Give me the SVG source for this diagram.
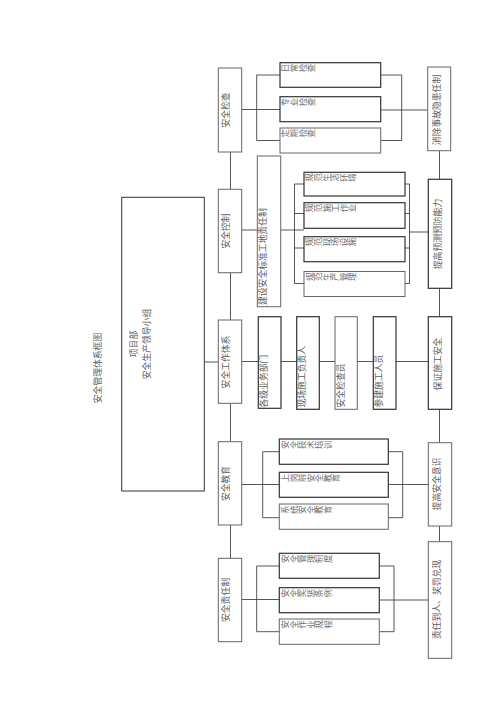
<svg xmlns="http://www.w3.org/2000/svg" width="500" height="707" viewBox="0 0 500 707">
<style>
text{font-family:"Noto Sans CJK SC","Noto Sans CJK JP",sans-serif;fill:#606060;}
.t{font-size:8.8px;}
.s{font-size:8.5px;fill:#707070;}
.box{fill:#fff;stroke:#666;stroke-width:1;}
.sb{fill:#fff;stroke:#333;stroke-width:1.2;}
.big{fill:#fff;stroke:#333;stroke-width:1;}
.c{fill:none;stroke:#444;stroke-width:0.9;}
</style>
<rect width="500" height="707" fill="#fff"/>
<g id="title"><text class="t" x="101" y="368" text-anchor="middle" transform="rotate(-90 101 368)">安全管理体系框图</text></g>
<g id="connectors">
<path class="c" d="M195,362H219"/>
<path class="c" d="M230.5,152V189.3M230.5,272.7V320M230.5,403.3V441.7M230.5,525V558.3"/>
<path class="c" d="M439.5,150.7V179.3M439.5,288.3V316.7M439.5,409.3V442.7M439.5,526V541.7"/>
<path class="c" d="M241.7,109.5H280M256.7,75V140.5M256.7,75H280M256.7,140.5H280M380.7,75H401.7M380.7,140.5H401.7M401.7,75V140.5M380.7,110H427.7"/>
<path class="c" d="M241.7,230H257.3M280.7,230H304M294.5,184V283.5M294.5,184H304M294.5,213.5H304M294.5,248H304M294.5,283.5H304M405,184H409.5M405,213.5H409.5M405,248H409.5M405,283.5H409.5M409.5,184V283.5M409.5,232H428.3"/>
<path class="c" d="M241.7,361.5H258.3M281,361.5H296.7M319.3,361.5H335M357.3,361.5H373.3M396,361.5H428.3"/>
<path class="c" d="M241.7,484.5H279.3M262.7,451.7V517.7M262.7,451.7H279.3M262.7,517.7H279.3M388.3,451.7H402.7M388.3,517.7H402.7M402.7,451.7V517.7M388.3,484.5H428.3"/>
<path class="c" d="M241.7,599.5H279.3M256.7,566V631.7M256.7,566H279.3M256.7,631.7H279.3M379.3,566H394M379.3,631.7H394M394,566V631.7M379.3,600H428.3"/>
</g>
<g id="leader"><rect class="big" x="121.7" y="197.3" width="82.6" height="293.7"/>
<text class="t" x="137" y="344" text-anchor="middle" transform="rotate(-90 137 344)">项目部</text>
<text class="t" x="150" y="344" text-anchor="middle" transform="rotate(-90 150 344)">安全生产领导小组</text></g>
<g id="n-jiancha"><rect class="box" x="218.3" y="68" width="23.4" height="84"/><text class="t" x="229" y="110" text-anchor="middle" transform="rotate(-90 229 110)">安全检查</text></g>
<g id="n-kongzhi"><rect class="box" x="218.3" y="189.3" width="23.4" height="83.4"/><text class="t" x="229" y="231" text-anchor="middle" transform="rotate(-90 229 231)">安全控制</text></g>
<g id="n-gongzuo"><rect class="box" x="218.3" y="320" width="23.4" height="83.3"/><text class="t" x="229" y="362" text-anchor="middle" transform="rotate(-90 229 362)">安全工作体系</text></g>
<g id="n-jiaoyu"><rect class="box" x="218.3" y="441.7" width="23.4" height="83.3"/><text class="t" x="229" y="483.5" text-anchor="middle" transform="rotate(-90 229 483.5)">安全教育</text></g>
<g id="n-zeren"><rect class="box" x="218.3" y="558.3" width="23.4" height="83.4"/><text class="t" x="229" y="600" text-anchor="middle" transform="rotate(-90 229 600)">安全责任制</text></g>
<g id="n-r1"><rect class="box" x="427.7" y="67" width="23" height="83.7"/><text class="t" x="440" y="110" text-anchor="middle" transform="rotate(-90 440 110)">消除事故隐患任制</text></g>
<g id="n-r2"><rect class="sb" x="428.3" y="179.3" width="23.4" height="109"/><text class="t" x="440.5" y="234" text-anchor="middle" transform="rotate(-90 440.5 234)">提高预测预防能力</text></g>
<g id="n-r3"><rect class="sb" x="428.3" y="316.7" width="23.4" height="92.6"/><text class="t" x="440.5" y="364" text-anchor="middle" transform="rotate(-90 440.5 364)">保证施工安全</text></g>
<g id="n-r4"><rect class="box" x="428.3" y="442.7" width="23.4" height="83.3"/><text class="t" x="440" y="484" text-anchor="middle" transform="rotate(-90 440 484)">提高安全意识</text></g>
<g id="n-r5"><rect class="box" x="428.3" y="541.7" width="23.4" height="116.6"/><text class="t" x="440" y="599.5" text-anchor="middle" transform="rotate(-90 440 599.5)">责任到人、奖罚兑现</text></g>
<g id="n-biaozhun"><rect class="box" x="257.3" y="156" width="23.4" height="150.7"/><text class="t" x="265.8" y="305" transform="rotate(-90 265.8 305)">建设安全标准工地责任制</text></g>
<g id="n-bumen"><rect class="sb" x="258.3" y="316.7" width="22.7" height="91.6"/><text class="t" x="266.8" y="407.5" transform="rotate(-90 266.8 407.5)">各级业务部门</text></g>
<g id="n-fuzeren"><rect class="sb" x="296.7" y="316.7" width="22.6" height="92.6"/><text class="t" x="305.2" y="407.5" transform="rotate(-90 305.2 407.5)">现场施工负责人</text></g>
<g id="n-jianchayuan"><rect class="box" x="335" y="316.7" width="22.3" height="92.6"/><text class="t" x="343.5" y="407.5" transform="rotate(-90 343.5 407.5)">安全检查员</text></g>
<g id="n-renyuan"><rect class="sb" x="373.3" y="316.7" width="22.7" height="92.6"/><text class="t" x="381.8" y="407.5" transform="rotate(-90 381.8 407.5)">参建施工人员</text></g>
<g id="s11"><rect class="sb" x="280" y="62.7" width="100.7" height="24.6"/><text class="s" x="288.5" y="72.3" rotate="-90">日常检查</text></g>
<g id="s12"><rect class="sb" x="280" y="96.7" width="100.7" height="25"/><text class="s" x="288.5" y="106.3" rotate="-90">专业检查</text></g>
<g id="s13"><rect class="box" x="280" y="128" width="100.7" height="25"/><text class="s" x="288.5" y="137.6" rotate="-90">定期检查</text></g>
<g id="s21"><rect class="sb" x="304" y="172.3" width="101" height="23.7"/><text class="s" x="312.5" y="181.8" rotate="-90">规范生活环境</text></g>
<g id="s22"><rect class="sb" x="304" y="202.7" width="101" height="25.6"/><text class="s" x="312.5" y="212.2" rotate="-90">规范施工作业</text></g>
<g id="s23"><rect class="sb" x="304" y="236.7" width="101" height="25"/><text class="s" x="312.5" y="246.2" rotate="-90">规范现场设施</text></g>
<g id="s24"><rect class="box" x="304" y="271.5" width="101" height="25"/><text class="s" x="312.5" y="281" rotate="-90">规范生产管理</text></g>
<g id="s41"><rect class="sb" x="279.3" y="439" width="109" height="25.3"/><text class="s" x="288" y="449" rotate="-90">安全技术培训</text></g>
<g id="s42"><rect class="sb" x="279.3" y="472.3" width="109" height="25"/><text class="s" x="288" y="482.3" rotate="-90">上岗前安全教育</text></g>
<g id="s43"><rect class="box" x="279.3" y="504" width="109" height="25.3"/><text class="s" x="288" y="514" rotate="-90">系统安全教育</text></g>
<g id="s51"><rect class="sb" x="279.3" y="553.3" width="100" height="25"/><text class="s" x="288" y="563" rotate="-90">安全管理制度</text></g>
<g id="s52"><rect class="sb" x="279.3" y="587.7" width="100" height="25"/><text class="s" x="288" y="597.4" rotate="-90">安全奖惩条例</text></g>
<g id="s53"><rect class="box" x="279.3" y="619" width="100" height="25.3"/><text class="s" x="288" y="628.7" rotate="-90">安全作业规程</text></g>
</svg>
